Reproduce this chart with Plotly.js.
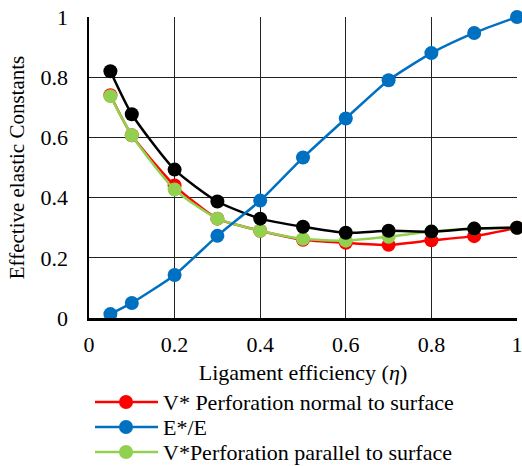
<!DOCTYPE html>
<html>
<head>
<meta charset="utf-8">
<script src="https://cdn.plot.ly/plotly-3.0.1.min.js"></script>
<style>html,body{margin:0;padding:0;background:#fff;}#chart{width:522px;height:466px;}</style>
</head>
<body>
<div id="chart"></div>
<script>
const eta = [0.05, 0.1, 0.2, 0.3, 0.4, 0.5, 0.6, 0.7, 0.8, 0.9, 1.0];
const vNormal = [0.74, 0.607, 0.44, 0.33, 0.29, 0.26, 0.25, 0.243, 0.258, 0.272, 0.3];
const eRatio = [0.013, 0.05, 0.143, 0.273, 0.39, 0.533, 0.663, 0.79, 0.88, 0.947, 1.0];
const vParallel = [0.737, 0.607, 0.427, 0.33, 0.29, 0.263, 0.257, 0.27, 0.287, 0.297, 0.3];
const vBlack = [0.82, 0.677, 0.493, 0.387, 0.33, 0.303, 0.283, 0.29, 0.287, 0.297, 0.3];
const xTicks = [0, 0.2, 0.4, 0.6, 0.8, 1];
const xTickText = ['0', '0.2', '0.4', '0.6', '0.8', '1'];
const yTicks = [0, 0.2, 0.4, 0.6, 0.8, 1];
const yTickText = ['0', '0.2', '0.4', '0.6', '0.8', '1'];
const legendNames = ['V* Perforation normal to surface', 'E*/E', 'V*Perforation parallel to surface'];
const legendColors = ['#FF0000', '#0070C0', '#92D050'];

const font = 'Liberation Serif';
function tr(y, name, color) {
  return {
    x: eta, y: y, name: name, type: 'scatter', mode: 'lines+markers',
    line: {color: color, width: 2.5, shape: 'spline', smoothing: 0.6},
    marker: {color: color, size: 14},
    cliponaxis: false, showlegend: false
  };
}
const data = [
  tr(vNormal, legendNames[0], legendColors[0]),
  tr(vParallel, legendNames[2], legendColors[2]),
  tr(vBlack, '', '#000000'),
  tr(eRatio, legendNames[1], legendColors[1])
];

// plot area in pixels: left 89, right 517, top 17, bottom 318
const L = 89, R = 517, T = 17, B = 318;
const px2x = p => (p - L) / (R - L);
const py2y = p => (B - p) / (B - T);
const shapes = [], annotations = [];
const rowY = [402, 427, 452];
legendNames.forEach((n, i) => {
  const yy = py2y(rowY[i]);
  shapes.push({type: 'line', xref: 'paper', yref: 'paper', x0: px2x(95), x1: px2x(158), y0: yy, y1: yy,
    line: {color: legendColors[i], width: 2.5}});
  shapes.push({type: 'circle', xref: 'paper', yref: 'paper',
    x0: px2x(126 - 7), x1: px2x(126 + 7), y0: py2y(rowY[i] + 7), y1: py2y(rowY[i] - 7),
    fillcolor: legendColors[i], line: {color: legendColors[i], width: 0}});
  annotations.push({xref: 'paper', yref: 'paper', x: px2x(161), y: yy, xanchor: 'left', yanchor: 'middle',
    text: n, showarrow: false, font: {family: font, size: 22, color: '#000'}});
});

const layout = {
  width: 522, height: 466,
  margin: {l: L, r: 522 - R, t: T, b: 466 - B},
  paper_bgcolor: '#fff', plot_bgcolor: '#fff',
  font: {family: font, size: 20, color: '#000'},
  xaxis: {
    range: [0, 1], tickvals: xTicks, ticktext: xTickText,
    showgrid: true, gridcolor: '#222', gridwidth: 1.3,
    showline: true, linecolor: '#000', linewidth: 2.5,
    zeroline: false, ticks: 'outside', ticklen: 5, tickcolor: 'rgba(0,0,0,0)',
    ticklabeloverflow: 'allow',
    tickfont: {family: font, size: 22},
    title: {text: 'Ligament efficiency (<i>η</i>)', font: {family: font, size: 22}, standoff: 9}
  },
  yaxis: {
    range: [0, 1], tickvals: yTicks, ticktext: yTickText,
    showgrid: true, gridcolor: '#222', gridwidth: 1.3,
    showline: true, linecolor: '#000', linewidth: 2.5,
    zeroline: false, ticks: 'outside', ticklen: 14, tickcolor: 'rgba(0,0,0,0)',
    tickfont: {family: font, size: 22},
    title: {text: 'Effective elastic Constants', font: {family: font, size: 21}, standoff: 10}
  },
  shapes: shapes,
  annotations: annotations,
  showlegend: false
};
Plotly.newPlot('chart', data, layout, {displayModeBar: false, staticPlot: true});
</script>
</body>
</html>
